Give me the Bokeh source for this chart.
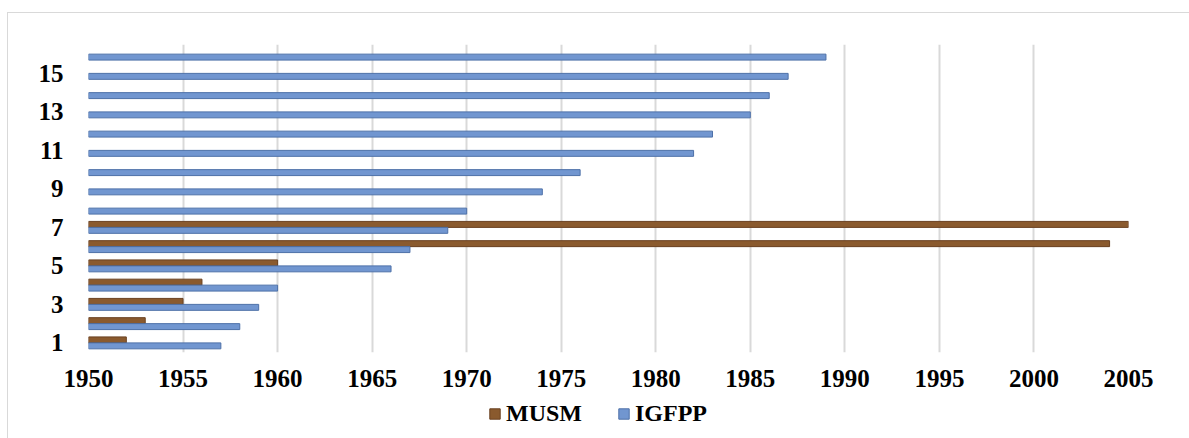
from bokeh.plotting import figure
from bokeh.layouts import column
from bokeh.models import ColumnDataSource, Range1d, FixedTicker, Legend, LegendItem
from bokeh.embed import file_html
from bokeh.resources import INLINE

categories = list(range(1, 17))
igfpp = [1957, 1958, 1959, 1960, 1966, 1967, 1969, 1970, 1974, 1976,
         1982, 1983, 1985, 1986, 1987, 1989]
musm = [1952, 1953, 1955, 1956, 1960, 2004, 2005]
x_ticks = list(range(1950, 2006, 5))
y_ticks = [1, 3, 5, 7, 9, 11, 13, 15]
series_names = ["MUSM", "IGFPP"]
base_year = 1950

FONT = "Liberation Serif"
BROWN = "#8a5a2e"
BROWN_LINE = "#6a4020"
BLUE = "#7196d0"
BLUE_LINE = "#4d70a8"
OFF = 0.155
H = 0.31

p = figure(width=1181, height=386, output_backend="svg", toolbar_location=None,
           x_range=Range1d(1950, 2005), y_range=Range1d(0.5, 16.5),
           min_border_left=80, min_border_right=61, min_border_top=31,
           min_border_bottom=47)
p.outline_line_color = None
p.background_fill_color = "white"
p.border_fill_color = "white"

src_b = ColumnDataSource(dict(y=[c - OFF for c in categories], right=igfpp,
                              left=[base_year] * len(igfpp)))
src_m = ColumnDataSource(dict(y=[c + OFF for c in categories[:len(musm)]], right=musm,
                              left=[base_year] * len(musm)))

p.hbar(y="y", left="left", right="right", height=H, source=src_m,
       fill_color=BROWN, line_color=BROWN_LINE, line_width=1)
p.hbar(y="y", left="left", right="right", height=H, source=src_b,
       fill_color=BLUE, line_color=BLUE_LINE, line_width=1)

p.xaxis.ticker = FixedTicker(ticks=x_ticks)
p.yaxis.ticker = FixedTicker(ticks=y_ticks)
for ax in (p.xaxis, p.yaxis):
    ax.axis_line_color = None
    ax.major_tick_line_color = None
    ax.minor_tick_line_color = None
    ax.major_tick_out = 0
    ax.major_tick_in = 0
    ax.major_label_text_font = FONT
    ax.major_label_text_font_style = "bold"
    ax.major_label_text_font_size = "25px"
    ax.major_label_text_color = "black"
p.xaxis.major_label_standoff = 17
p.yaxis.major_label_standoff = 25

p.xgrid.ticker = FixedTicker(ticks=x_ticks)
p.xgrid.grid_line_color = "#d9d9d9"
p.xgrid.grid_line_width = 2
p.ygrid.grid_line_color = None

# legend strip below the chart (its swatch renderers sit outside the visible range)
pl = figure(width=1181, height=39, output_backend="svg", toolbar_location=None,
            x_range=Range1d(0, 1), y_range=Range1d(0, 1), min_border=0,
            min_border_left=0, min_border_right=0, min_border_top=0,
            min_border_bottom=0)
pl.outline_line_color = None
pl.axis.visible = False
pl.grid.grid_line_color = None
lm = pl.quad(left=[-5], right=[-4], bottom=[-5], top=[-4],
             fill_color=BROWN, line_color=BROWN_LINE)
lb = pl.quad(left=[-5], right=[-4], bottom=[-5], top=[-4],
             fill_color=BLUE, line_color=BLUE_LINE)

legend = Legend(items=[LegendItem(label=series_names[0], renderers=[lm]),
                       LegendItem(label=series_names[1], renderers=[lb])],
                orientation="horizontal", location=(400, 11))
legend.label_text_font = FONT
legend.label_text_font_style = "bold"
legend.label_text_font_size = "24px"
legend.label_text_color = "black"
legend.glyph_width = 13
legend.glyph_height = 13
legend.label_standoff = 5
legend.spacing = 35
legend.padding = 0
legend.margin = 0
legend.border_line_color = None
legend.background_fill_alpha = 0
pl.add_layout(legend)

layout = column(p, pl, spacing=0,
                styles={"margin-top": "12px", "margin-left": "7px",
                        "border-top": "1px solid #d9d9d9",
                        "border-left": "1px solid #d9d9d9"})

open("out.html", "w").write(file_html(layout, INLINE))
